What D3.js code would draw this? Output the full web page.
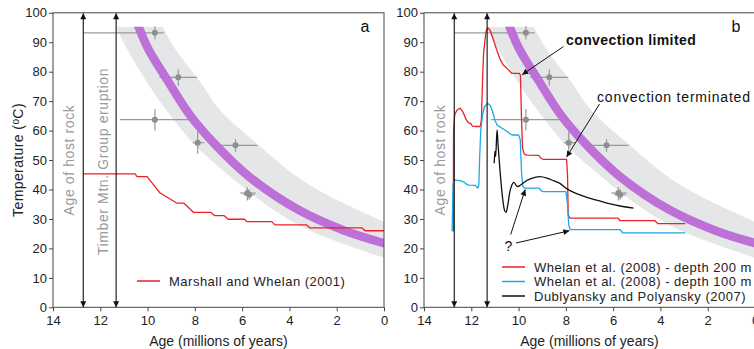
<!DOCTYPE html>
<html>
<head>
<meta charset="utf-8">
<script src="https://cdn.jsdelivr.net/npm/d3@7"></script>
<style>
  body { margin: 0; background: #fff; }
  svg { display: block; font-family: "Liberation Sans", Arial, Helvetica, sans-serif; }
</style>
</head>
<body>
<script>
// ---- axis ticks ----
const ageTicks = [14, 12, 10, 8, 6, 4, 2, 0];
const tempTicks = [0, 10, 20, 30, 40, 50, 60, 70, 80, 90, 100];

// ---- cooling trend and its envelope: [age (Ma), temperature (°C)] ----
const coolingTrend = [[10.38, 95.3], [9.98, 87.9], [9.12, 76.6], [8.21, 65.3], [7.19, 55.7],
  [5.71, 44.4], [3.62, 33.1], [1.72, 26.2], [0, 21.8]];
const envelopeHot = [[9.36, 95.3], [8.84, 87.9], [7.78, 76.6], [6.94, 67.0], [5.39, 55.7],
  [3.69, 44.4], [2.28, 37.6], [0, 29.0]];
const envelopeCool = [[11.34, 95.3], [10.88, 87.9], [10.04, 76.6], [9.05, 65.3], [8.07, 55.7],
  [6.51, 44.4], [4.68, 33.1], [3.13, 26.0], [0, 16.8]];

// ---- dated samples with age and temperature uncertainty ----
const sampleAge      = [9.69, 8.70, 9.69, 7.88, 6.28, 5.78, 5.70];
const sampleTemp     = [93.2, 78.1, 63.7, 55.9, 55.0, 38.8, 38.2];
const sampleAgeOld   = [12.72, 9.50, 11.17, 8.09, 7.21, 6.08, 5.95];
const sampleAgeYoung = [9.31, 7.90, 8.20, 7.60, 5.35, 5.42, 5.48];
const sampleTempHigh = [95.4, 80.8, 67.3, 59.7, 57.1, 40.8, 40.0];
const sampleTempLow  = [91.0, 75.2, 60.0, 52.1, 52.8, 36.3, 36.5];

// ---- key events (Ma) ----
const hostRockAge = 12.72;
const timberMtnAge = 11.33;

// ---- model thermal histories: [age (Ma), temperature (°C)] ----
const marshallWhelan2001 = [[12.72, 45.3], [10.53, 45.3], [10.44, 44.4], [10.02, 44.4], [9.47, 38.8],
  [8.77, 35.4], [8.47, 35.4], [8.05, 32.2], [7.32, 32.2], [7.15, 31.1], [6.76, 31.1], [6.59, 29.9],
  [5.9, 29.9], [5.8, 29.1], [4.75, 29.1], [4.61, 28.0], [3.29, 28.0], [3.14, 27.0], [0.94, 27.0],
  [0.8, 26.0], [0, 26.0]];

const whelanDepth200 = [[12.76, 25.7], [12.75, 60], [12.7, 65.5], [12.6, 67.0], [12.47, 67.6],
  [12.35, 66.3], [12.22, 63.8], [12.12, 62.6], [12.04, 62.5], [11.95, 61.5], [11.83, 61.4],
  [11.62, 61.4], [11.57, 64], [11.52, 78], [11.48, 86.2], [11.38, 93.6], [11.3, 94.9], [11.2, 94],
  [11.06, 90.7], [10.92, 87.3], [10.77, 84], [10.65, 82.3], [10.56, 81.7], [10.45, 80.8],
  [10.35, 80.0], [10.28, 79.4], [9.97, 79.4], [9.92, 78.8], [9.88, 65], [9.83, 54], [9.76, 52],
  [9.65, 51.7], [9.15, 51.6], [9.05, 50.6], [8.95, 50.2], [7.97, 50.2], [7.93, 45], [7.9, 31.5],
  [7.85, 30.5], [7.8, 30.3], [5.8, 30.3], [5.7, 29.4], [4.24, 29.4], [4.1, 28.4], [2.95, 28.4]];

const whelanDepth100 = [[12.81, 25.8], [12.77, 42], [12.7, 43.3], [12.47, 43.0], [12.3, 42.5],
  [12.2, 41.8], [12.1, 41.5], [11.83, 41.4], [11.73, 40.5], [11.68, 41.5], [11.65, 50], [11.6, 60],
  [11.52, 65.5], [11.45, 68], [11.31, 69.3], [11.2, 68.5], [11.1, 66.5], [11.0, 63.5],
  [10.91, 61.9], [10.7, 60.8], [10.49, 59.7], [10.28, 58.5], [10.0, 58.5], [9.93, 57], [9.87, 45],
  [9.82, 41], [9.75, 40.5], [9.13, 40.5], [9.05, 39.6], [8.95, 39.3], [8.0, 39.3], [7.93, 35],
  [7.88, 28], [7.82, 26.5], [7.75, 26.4], [5.72, 26.4], [5.6, 25.3], [2.95, 25.3]];

const dublyansky2007 = [[11.03, 48.9], [11.0, 53.0], [10.97, 51.2], [10.91, 60.2], [10.87, 55.5],
  [10.82, 50.1], [10.7, 38.8], [10.6, 33.1], [10.53, 32.2], [10.46, 34.5], [10.38, 38.8],
  [10.28, 41.6], [10.2, 42.4], [10.1, 41.4], [10.04, 41.0], [9.9, 41.6], [9.7, 42.8], [9.45, 43.8],
  [9.1, 44.4], [8.8, 43.9], [8.5, 42.9], [8.24, 42.0], [7.95, 40.2], [7.6, 38.8], [7.2, 37.6],
  [6.7, 36.4], [6.26, 35.4], [5.7, 34.4], [5.14, 33.7]];

// ---- styling ----
const RED = "#ec2027", BLUE = "#1ea8e8", BLACK = "#111", PURPLE = "#bd70d8",
      BAND = "#e5e6e7", SAMPLE = "#999", AXIS = "#444";

const W = 754, H = 349;
const svg = d3.select("body").append("svg").attr("width", W).attr("height", H);

const defs = svg.append("defs");
defs.append("marker").attr("id", "head")
  .attr("viewBox", "0 0 10 10").attr("refX", 10).attr("refY", 5)
  .attr("markerUnits", "userSpaceOnUse").attr("markerWidth", 8).attr("markerHeight", 6)
  .attr("orient", "auto-start-reverse")
  .append("path").attr("d", "M0,0L10,5L0,10Z").attr("fill", "#111");
defs.append("marker").attr("id", "headSmall")
  .attr("viewBox", "0 0 10 10").attr("refX", 10).attr("refY", 5)
  .attr("markerUnits", "userSpaceOnUse").attr("markerWidth", 9).attr("markerHeight", 6)
  .attr("orient", "auto")
  .append("path").attr("d", "M0,0L10,5L0,10Z").attr("fill", "#111");

const yTop = 12.8, yBottom = 307.3;

function drawPanel(id, x0, x1, opts) {
  const x = d3.scaleLinear().domain([14, 0]).range([x0, x1]);
  const y = d3.scaleLinear().domain([0, 100]).range([yBottom, yTop]);
  const g = svg.append("g");

  const clipId = "clip-" + id;
  defs.append("clipPath").attr("id", clipId).append("rect")
    .attr("x", x(14)).attr("y", y(coolingTrend[0][1]))
    .attr("width", x(0) - x(14)).attr("height", y(0) - y(coolingTrend[0][1]));

  const smooth = d3.line().x(d => x(d[0])).y(d => y(d[1])).curve(d3.curveCatmullRom.alpha(0.5));
  const straight = d3.line().x(d => x(d[0])).y(d => y(d[1]));
  const curvy = d3.line().x(d => x(d[0])).y(d => y(d[1])).curve(d3.curveMonotoneX);

  // uncertainty envelope
  const hotPath = smooth(envelopeHot);
  const coolPath = smooth(envelopeCool.slice().reverse());
  g.append("path").attr("d", hotPath + "L" + coolPath.slice(1) + "Z")
    .attr("fill", BAND).attr("clip-path", `url(#${clipId})`);

  // sample error bars
  const s = g.append("g").attr("stroke", SAMPLE).attr("stroke-width", 1.2);
  sampleAge.forEach((a, i) => {
    s.append("line").attr("x1", x(sampleAgeOld[i])).attr("x2", x(sampleAgeYoung[i]))
      .attr("y1", y(sampleTemp[i])).attr("y2", y(sampleTemp[i]));
    s.append("line").attr("x1", x(a)).attr("x2", x(a))
      .attr("y1", y(sampleTempHigh[i])).attr("y2", y(sampleTempLow[i]));
  });

  // cooling trend
  g.append("path").attr("d", smooth(coolingTrend))
    .attr("fill", "none").attr("stroke", PURPLE).attr("stroke-width", 8.6)
    .attr("stroke-linecap", "square").attr("clip-path", `url(#${clipId})`);

  // sample points
  g.append("g").selectAll("circle").data(sampleAge).join("circle")
    .attr("cx", d => x(d)).attr("cy", (d, i) => y(sampleTemp[i])).attr("r", 3)
    .attr("fill", "#8e8e8e");

  // model curves
  opts.series.forEach(sr => {
    g.append("path").attr("d", (sr.smooth ? curvy : straight)(sr.data))
      .attr("fill", "none").attr("stroke", sr.color).attr("stroke-width", 1.3)
      .attr("stroke-linejoin", "round");
  });

  // event arrows
  [hostRockAge, timberMtnAge].forEach(a => {
    g.append("line").attr("x1", x(a)).attr("x2", x(a)).attr("y1", y(0)).attr("y2", y(100) + 0.5)
      .attr("stroke", "#111").attr("stroke-width", 1.1)
      .attr("marker-start", "url(#head)").attr("marker-end", "url(#head)");
  });

  // axes
  const ax = g.append("g").attr("transform", `translate(0,${yBottom})`)
    .call(d3.axisBottom(x).tickValues(ageTicks).tickFormat(d3.format("d"))
      .tickSize(4).tickSizeOuter(0).tickPadding(4));
  const ay = g.append("g").attr("transform", `translate(${x0},0)`)
    .call(d3.axisLeft(y).tickValues(tempTicks).tickSize(4).tickSizeOuter(0).tickPadding(2));
  [ax, ay].forEach(a => {
    a.select(".domain").remove();
    a.selectAll("line").attr("stroke", AXIS);
    a.selectAll("text").attr("fill", "#222").attr("font-size", 13)
      .attr("font-family", "Liberation Sans, Arial, sans-serif");
  });
  g.append("rect").attr("x", x0).attr("y", yTop).attr("width", x1 - x0).attr("height", yBottom - yTop)
    .attr("fill", "none").attr("stroke", AXIS).attr("stroke-width", 1);

  // axis title
  g.append("text").attr("x", (x0 + x1) / 2).attr("y", 346).attr("text-anchor", "middle")
    .attr("font-size", 14).attr("fill", "#222").text("Age (millions of years)");

  // event labels
  g.append("text")
    .attr("transform", `translate(${x(hostRockAge) - 9.5},160) rotate(-90)`)
    .attr("text-anchor", "middle").attr("font-size", 14).attr("letter-spacing", 0.6)
    .attr("fill", "#9a9a9a").text("Age of host rock");
  if (opts.timber) {
    g.append("text")
      .attr("transform", `translate(${x(timberMtnAge) - 8.5},161.5) rotate(-90)`)
      .attr("text-anchor", "middle").attr("font-size", 14).attr("letter-spacing", 0.6)
      .attr("fill", "#9a9a9a").text("Timber Mtn. Group eruption");
  }

  // panel letter
  g.append("text").attr("x", x1 - 19).attr("y", 32.3).attr("text-anchor", "middle")
    .attr("font-size", 16).attr("fill", "#111").text(opts.letter);

  // legend
  opts.series.forEach((sr, i) => {
    const ly = opts.legendY + i * 14.5;
    g.append("line").attr("x1", opts.legendX).attr("x2", opts.legendX + 23)
      .attr("y1", ly).attr("y2", ly).attr("stroke", sr.color).attr("stroke-width", 1.5);
    g.append("text").attr("x", opts.legendX + 32).attr("y", ly + 4.6)
      .attr("font-size", 13).attr("letter-spacing", 0.5).attr("fill", "#222").text(sr.label);
  });

  return { g, x, y };
}

// ---- panel a ----
const A = drawPanel("a", 53, 384, {
  letter: "a", timber: true, legendX: 137, legendY: 281,
  series: [{ data: marshallWhelan2001, color: RED, label: "Marshall and Whelan (2001)" }]
});

// y-axis title
const yt = svg.append("text").attr("transform", "translate(22.5,160) rotate(-90)")
  .attr("text-anchor", "middle").attr("font-size", 14).attr("letter-spacing", 0.4).attr("fill", "#222");
yt.append("tspan").text("Temperature (");
yt.append("tspan").attr("dy", -4).attr("font-size", 10).text("o");
yt.append("tspan").attr("dy", 4).text("C)");

// ---- panel b ----
const B = drawPanel("b", 424, 755, {
  letter: "b", timber: false, legendX: 502, legendY: 267,
  series: [
    { data: whelanDepth200, color: RED, label: "Whelan et al. (2008) - depth 200 m" },
    { data: whelanDepth100, color: BLUE, label: "Whelan et al. (2008) - depth 100 m" },
    { data: dublyansky2007, color: BLACK, label: "Dublyansky and Polyansky (2007)", smooth: true }
  ]
});

// annotations on panel b
const note = B.g.append("g");
note.append("text").attr("x", 566).attr("y", 44.8).attr("font-size", 14).attr("font-weight", "bold")
  .attr("letter-spacing", 0.4).attr("fill", "#111").text("convection limited");
note.append("text").attr("x", 597).attr("y", 101.5).attr("font-size", 14)
  .attr("letter-spacing", 0.8).attr("fill", "#111").text("convection terminated");
note.append("text").attr("x", 508.5).attr("y", 250.5).attr("text-anchor", "middle")
  .attr("font-size", 14).attr("fill", "#111").text("?");

function pointer(ax0, ay0, ageTip, tempTip) {
  note.append("line")
    .attr("x1", ax0).attr("y1", ay0).attr("x2", B.x(ageTip)).attr("y2", B.y(tempTip))
    .attr("stroke", "#111").attr("stroke-width", 1).attr("marker-end", "url(#headSmall)");
}
pointer(563.5, 46.5, 9.85, 79.0);
pointer(599.5, 104, 7.97, 51.0);
pointer(510.7, 234.5, 9.72, 40.0);
pointer(516, 243, 7.85, 26.0);
</script>
</body>
</html>
